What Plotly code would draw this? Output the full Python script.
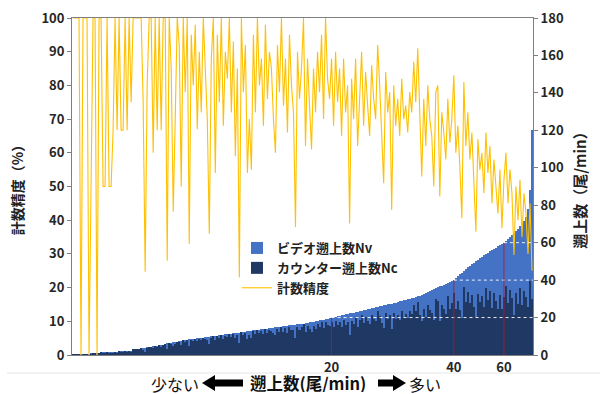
import plotly.graph_objects as go

# ---- data (sorted by video count Nv) ----
nv = [0.4,0.4,0.4,0.4,0.4,0.4,0.4,0.4,0.4,
      0.9,0.9,0.9,0.9,0.9,
      1.4,1.4,1.4,1.4,1.4,1.4,1.4,1.4,1.4,
      2.1,2.1,2.1,2.1,2.1,2.1,2.1,
      3.0,3.0,3.2,3.2,3.5,3.5,3.8,
      4.1,4.1,4.4,4.6,4.8,5.0,5.2,5.4,5.6,5.9,
      6.2,6.4,6.6,6.8,7.0,7.2,7.4,7.6,7.8,
      8.0,8.1,8.3,8.4,8.6,8.7,8.9,9.0,9.2,9.3,9.5,9.6,9.8,9.9,10.1,10.2,10.4,10.5,10.7,10.8,
      11.0,11.1,11.3,11.4,11.6,11.7,11.9,12.0,12.2,12.3,
      12.5,12.6,12.8,12.9,13.1,13.2,13.4,13.5,13.7,13.8,14.0,14.1,14.3,14.4,14.6,14.7,14.9,15.0,
      15.2,15.3,15.5,15.6,15.8,15.9,16.1,16.2,16.4,16.5,16.7,16.8,
      17.0,17.2,17.4,17.6,17.8,18.0,18.3,18.5,18.7,18.9,19.2,19.4,19.7,
      20.0,20.2,20.5,20.7,21.0,21.2,21.5,21.7,22.0,22.2,22.5,22.7,23.0,23.2,23.5,23.7,24.0,24.2,24.5,24.7,
      25.0,25.2,25.5,25.7,26.0,26.2,26.5,26.7,27.0,27.2,27.5,27.7,28.0,28.3,28.6,28.9,29.2,29.5,29.8,30.1,
      30.4,30.7,31.0,31.3,
      31.6,32.1,32.6,33.1,33.6,34.1,34.6,35.1,35.6,36.1,36.6,37.1,37.6,38.1,38.6,39.1,39.6,
      40.0,41.0,42.0,43.0,44.0,45.0,
      46.0,46.8,47.6,48.4,49.2,50.0,50.8,51.6,
      52.5,53.2,53.9,54.6,55.3,56.0,56.7,57.4,58.1,58.8,59.5,
      60.0,61.0,62.0,63.0,64.0,65.0,
      66.0,67.4,68.8,70.2,71.6,
      73.5,78.0,88.0,120.0]

nc = [0.4,0.4,0.4,0.4,0,0.4,0.4,0.4,0,0.5,
      0.9,0.9,0,0.9,1.4,0.9,0.9,1.4,0.9,0.9,
      1.2,1.4,1.2,2.1,1.6,1.6,2.1,1.6,2.1,1.8,
      3.0,3.0,3.2,3.2,3.5,2.9,1.5,3.5,4.1,4.4,
      3.6,4.8,4.1,5.2,4.4,5.6,5.9,3.2,6.4,5.9,
      4.6,6.1,7.2,6.9,5.2,7.8,7.1,8.1,5.0,8.0,
      7.6,8.5,7.4,8.4,7.9,9.3,8.7,7.9,6.0,9.1,
      10.1,8.0,9.9,8.9,10.7,8.6,10.3,9.7,11.3,9.4,
      11.0,8.9,10.9,6.5,12.2,10.6,11.9,8.8,10.8,9.1,
      12.6,11.1,13.4,11.9,12.9,11.2,13.7,11.8,13.2,12.6,
      11.8,10.9,13.9,12.4,15.2,12.5,14.2,11.9,15.0,13.4,
      13.2,9.0,15.0,13.3,14.7,16.8,12.2,15.6,13.7,12.4,
      15.6,14.0,16.8,15.0,17.8,14.4,17.6,16.2,15.6,17.6,
      14.9,18.4,15.9,17.8,14.8,18.9,16.0,17.6,10.7,18.4,
      16.3,20.2,15.2,18.5,21.3,16.9,20.3,18.4,16.5,21.5,
      19.2,18.0,23.6,20.8,17.3,14.5,22.4,19.4,21.2,13.8,
      22.2,19.0,21.5,18.6,23.7,20.4,21.8,19.7,23.5,21.9,
      26.7,23.3,28.5,21.5,18.0,24.8,20.5,26.5,23.9,22.5,
      18.6,30.0,28.9,18.2,26.7,24.8,22.1,31.5,24.6,27.7,
      33.2,24.6,28.6,24.1,19.9,36.5,28.5,33.7,27.6,31.9,
      25.6,20.3,32.5,28.4,31.5,25.5,35.6,29.5,34.3,25.2,
      32.9,28.7,24.4,32.3,24.4,31.2,36.6,27.9,34.7,30.7,
      21.3,33.0,27.0,35.8,26.6,34.4,30.9,25.4,39.6,30.0]

accuracy = [100,100,100,100,0,100,100,100,0,50,
            100,100,0,100,100,50,50,100,50,50,
            66.7,100,66.7,100,66.7,66.7,100,66.7,100,75,
            100,100,100,100,100,75,24.7,80,100,100,
            60,100,66.7,100,66.7,100,100,28,100,85,
            42.5,70,100,92,50,100,78,100,33,95,
            80,98,67,90,72,100,85,70,36,88,
            100,54,95,75,100,68,90,82,100,72,
            93,59,85,23,100,78,92,54,70,55,
            95,72,100,80,88,68,98,76,90,85,
            70,60,92,78,100,74,88,66,95,80,
            72,38,90,76,85,100,62,88,74,61,
            85,72,90,78,95,70,100,82,76,88,
            68,90,75,85,65,88,72,80,39,82,
            70,88,62,78,90,68,84,74,65,86,
            76,70,92,80,66,51,84,72,78,43,
            80,68,76,65,82,70,74,66,78,72,
            87,75,91,68,53,76,62,80,70,65,
            50,78,80,47,72,66,58,76,63,70,
            83,60,68,56,40.6,81,62,72,58,66,
            52,36.6,64,55,60,48,66,54,62,45,
            58,50,42,55,37.6,52,60,45,55,48,
            29.7,50,40,52,35,48,42,30,45,25]

tick_values = [20, 40, 60]
tick_labels = ["20", "40", "60"]

idx = list(range(len(nv)))
FONT = "Noto Sans CJK JP, Noto Sans, sans-serif"

fig = go.Figure()
fig.add_trace(go.Bar(x=idx, y=nv, name="ビデオ遡上数Nv", marker=dict(color="#4472C4", line=dict(width=0)),
                     yaxis="y"))
fig.add_trace(go.Bar(x=idx, y=nc, name="カウンター遡上数Nc", marker=dict(color="#1F3864", line=dict(width=0)),
                     yaxis="y"))
fig.add_trace(go.Scatter(x=idx, y=accuracy, name="計数精度", mode="lines",
                         line=dict(color="#FFC000", width=1.1), yaxis="y2"))

# positions where Nv first reaches each tick value
tick_pos = [next(i for i, v in enumerate(nv) if v >= t) for t in tick_values]

shapes = []
xmax = len(nv) - 0.5
for t, p in zip(tick_values, tick_pos):
    shapes.append(dict(type="line", xref="x", yref="y", x0=p, x1=p, y0=0, y1=nv[p],
                       line=dict(color="rgba(190,20,40,0.8)", width=1), layer="above"))
    shapes.append(dict(type="line", xref="x", yref="y", x0=p, x1=xmax, y0=t, y1=t,
                       line=dict(color="rgba(255,255,255,0.9)", width=1, dash="dot"), layer="above"))

# helper for pixel -> paper coords (plot area 72..533 x, 18..355 y)
def px(x):
    return (x - 72) / 461.0

def py(y):
    return (355 - y) / 337.0

def arrow_path(points):
    s = "M " + " L ".join(f"{px(a):.5f},{py(b):.5f}" for a, b in points) + " Z"
    return s

left_arrow = [(202, 383), (215, 375), (215, 379.5), (243, 379.5), (243, 386.5), (215, 386.5), (215, 391)]
right_arrow = [(378, 379.5), (393, 379.5), (393, 375), (406, 383), (393, 391), (393, 386.5), (378, 386.5)]
for pts in (left_arrow, right_arrow):
    shapes.append(dict(type="path", xref="paper", yref="paper", path=arrow_path(pts),
                       fillcolor="black", line=dict(color="black", width=0)))
shapes.append(dict(type="line", xref="paper", yref="paper", x0=px(7), x1=px(600), y0=py(373), y1=py(373),
                   line=dict(color="#e6e6e6", width=1)))

annotations = [
    dict(text="少ない", xref="paper", yref="paper", x=px(201), y=py(383), xanchor="right", yanchor="middle",
         height=19, valign="middle", showarrow=False, font=dict(family=FONT, size=16, color="#111")),
    dict(text="遡上数(尾/min)", xref="paper", yref="paper", x=px(248), y=py(382.5), xanchor="left", yanchor="middle",
         height=19, valign="middle", showarrow=False,
         font=dict(family=FONT, size=16.5, color="#111", weight="bold")),
    dict(text="多い", xref="paper", yref="paper", x=px(407), y=py(383), xanchor="left", yanchor="middle",
         height=19, valign="middle", showarrow=False, font=dict(family=FONT, size=16, color="#111")),
]

tickfont = dict(family=FONT, size=13, color="#262626", weight="bold")

fig.update_layout(
    width=602, height=394,
    margin=dict(l=72, r=69, t=18, b=39, autoexpand=False),
    paper_bgcolor="white", plot_bgcolor="white",
    barmode="overlay", bargap=0,
    showlegend=True,
    legend=dict(x=px(237), y=py(233), xanchor="left", yanchor="top", bgcolor="rgba(0,0,0,0)",
                font=dict(family=FONT, size=13, color="#222", weight="bold"),
                tracegroupgap=0, itemwidth=30),
    xaxis=dict(range=[-0.5, len(nv) - 0.5], tickvals=tick_pos, ticktext=tick_labels,
               showline=True, linecolor="#7f7f7f", linewidth=1, mirror=True, showgrid=False,
               zeroline=False, ticks="", tickfont=tickfont),
    yaxis=dict(range=[0, 180], dtick=20, side="right", showgrid=False, zeroline=False,
               showline=True, linecolor="#7f7f7f", ticks="outside", ticklen=4, tickcolor="#7f7f7f",
               tickfont=tickfont,
               title=dict(text="遡上数（尾/min）", font=dict(family=FONT, size=15, color="#222", weight="bold"),
                          standoff=12)),
    yaxis2=dict(range=[0, 100], dtick=10, side="left", overlaying="y", showgrid=False, zeroline=False,
                showline=True, linecolor="#7f7f7f", ticks="outside", ticklen=4, tickcolor="#7f7f7f",
                tickfont=tickfont,
                title=dict(text="計数精度（%）", font=dict(family=FONT, size=14, color="#222", weight="bold"),
                           standoff=14)),
    shapes=shapes,
    annotations=annotations,
)

fig.write_html("out.html", config={"displayModeBar": False},
               post_script="document.body.style.margin='0px';document.body.style.padding='0px';"
                           "document.documentElement.style.overflow='hidden';")
